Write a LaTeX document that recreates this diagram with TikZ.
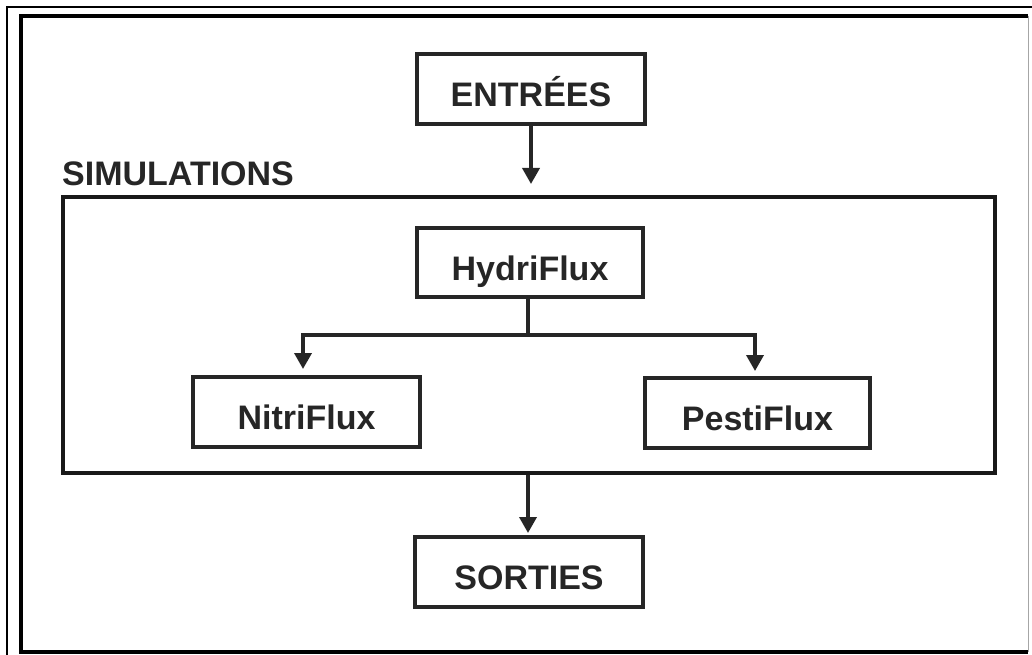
\documentclass[tikz,border=0pt]{standalone}
\usepackage{fontspec}
\setmainfont{Liberation Sans}
\usetikzlibrary{arrows.meta}
\begin{document}
\begin{tikzpicture}[x=1pt,y=-1pt,
  box/.style={draw=black!85,line width=3.6pt,minimum width=#1,minimum height=70pt,inner sep=0pt,
    text height=35pt,text depth=0pt,
    font=\fontsize{34}{38}\selectfont\bfseries,text=black!85},
  arr/.style={draw=black!85,line width=3.6pt,-{Triangle[width=17pt,length=16pt]}},
  ln/.style={draw=black!85,line width=3.6pt}]
\useasboundingbox (0,0) rectangle (1032,655);
% outer frames
\draw[line width=1.2pt] (7,655) -- (7,7) -- (1032,7);
\draw[line width=4.5pt] (1028,16) -- (21,16) -- (21,652) -- (1028,652);
\draw[line width=1pt,black!35] (1028,16) -- (1028,652);
% nodes
\node[box=228pt] (ent) at (531,89) {ENTRÉES};
\node[draw=black!90,line width=4pt,minimum width=932pt,minimum height=276pt,inner sep=0pt] (sim) at (529,335) {};
\node[anchor=south west,inner sep=0pt,font=\fontsize{34}{38}\selectfont\bfseries,text=black!85] (simlab) at (62,186) {SIMULATIONS};
\node[box=226pt,minimum height=69pt] (hyd) at (530,262.5) {HydriFlux};
\node[box=227pt] (nit) at (306.5,412) {NitriFlux};
\node[box=225pt] (pes) at (757.5,413) {PestiFlux};
\node[box=228pt] (sor) at (529,572) {SORTIES};
% connectors
\coordinate (a1) at (531,184);
\draw[arr] (ent.south) -- (a1);
\coordinate (br) at (528,335);
\coordinate (an) at (303,369);
\coordinate (ap) at (755,371);
\draw[ln] (hyd.south -| br) -- (br);
\draw[arr] (br) -| (an);
\draw[arr] (br) -| (ap);
\coordinate (a2) at (528,533);
\draw[arr] (sim.south -| a2) -- (a2);
\end{tikzpicture}
\end{document}
